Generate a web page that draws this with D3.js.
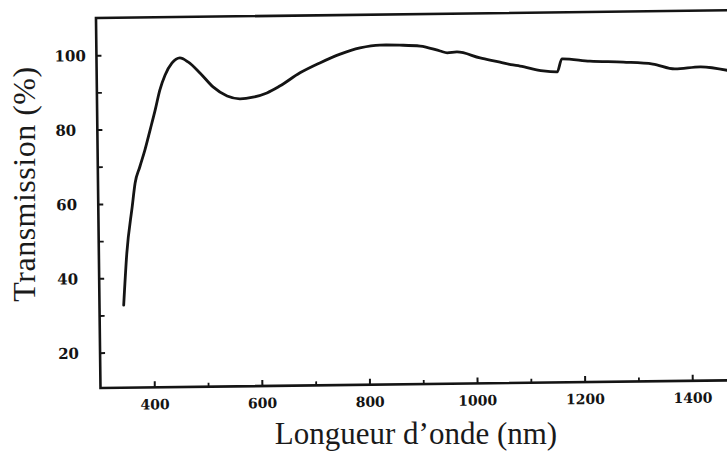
<!DOCTYPE html>
<html>
<head>
<meta charset="utf-8">
<script src="https://cdn.jsdelivr.net/npm/d3@7"></script>
<style>
  html, body { margin: 0; padding: 0; background: #fff; }
  svg { display: block; }
</style>
</head>
<body>
<svg id="chart" width="727" height="464"></svg>
<script>
// Wavelength (nm) and transmission (%)
const wavelength = [345, 352, 363, 369, 378, 388, 398, 408, 417, 427, 440, 455, 470, 492, 516, 542, 566, 590, 616, 640, 678, 715, 753, 790, 827, 864, 902, 939, 952, 970, 1013, 1050, 1070, 1087, 1130, 1156, 1165, 1217, 1279, 1334, 1375, 1422, 1480];
const transmission = [32.7, 46.7, 59.1, 65.5, 69.8, 74.4, 79.7, 85.1, 90.4, 94.4, 97.6, 99.0, 97.9, 94.9, 91.1, 88.6, 87.8, 88.2, 89.3, 91.1, 94.6, 97.2, 99.5, 101.1, 101.8, 101.7, 101.4, 100.0, 99.5, 99.7, 98.0, 96.8, 96.1, 95.7, 94.3, 94.0, 97.5, 96.8, 96.4, 95.8, 94.4, 94.9, 93.6];
const xTicksMajor = [400, 600, 800, 1000, 1200, 1400];
const xTicksMinor = [500, 700, 900, 1100, 1300];
const yTicksMajor = [20, 40, 60, 80, 100];
const yTicksMinor = [30, 50, 70, 90];
const xDomain = [300, 1480];
const yDomain = [10.5, 110];
const xTitle = "Longueur d\u2019onde (nm)";
const yTitle = "Transmission (%)";

const svg = d3.select("#chart");
const ox = 100.5, oy = 388;       // lower-left corner of the frame
const plotH = 370;
const plotW = (xDomain[1] - xDomain[0]) * 0.538;
const tilt = -0.7;                 // scan is slightly rotated

const x = d3.scaleLinear().domain(xDomain).range([0, plotW]);
const y = d3.scaleLinear().domain(yDomain).range([0, -plotH]);

const g = svg.append("g")
  .attr("transform", `translate(${ox},${oy}) rotate(${tilt})`);

const ink = "#141414";

// frame (right side falls outside the picture)
g.append("rect")
  .attr("x", 0).attr("y", -plotH)
  .attr("width", plotW).attr("height", plotH)
  .attr("fill", "none").attr("stroke", ink).attr("stroke-width", 2.6);

// x axis ticks (inward)
const xAxis = d3.axisBottom(x).tickValues(xTicksMajor).tickSize(-6).tickPadding(0).tickFormat(d3.format("d"));
const gx = g.append("g").call(xAxis);
gx.select(".domain").remove();
gx.selectAll(".tick line").attr("stroke", ink).attr("stroke-width", 2);
gx.selectAll(".tick text")
  .attr("y", 22).attr("dy", 0)
  .attr("fill", ink)
  .style("font-family", "'DejaVu Serif', serif")
  .style("font-weight", "bold")
  .style("font-size", "14px");

const gxm = g.append("g").call(d3.axisBottom(x).tickValues(xTicksMinor).tickSize(-4).tickFormat(""));
gxm.select(".domain").remove();
gxm.selectAll(".tick line").attr("stroke", ink).attr("stroke-width", 1.8);

// y axis ticks (inward)
const yAxis = d3.axisLeft(y).tickValues(yTicksMajor).tickSize(-5).tickPadding(0).tickFormat(d3.format("d"));
const gy = g.append("g").call(yAxis);
gy.select(".domain").remove();
gy.selectAll(".tick line").attr("stroke", ink).attr("stroke-width", 2);
gy.selectAll(".tick text")
  .attr("x", -42).attr("dy", "0.35em")
  .attr("text-anchor", "start")
  .attr("fill", ink)
  .style("font-family", "'DejaVu Serif', serif")
  .style("font-weight", "bold")
  .style("font-size", "15px");

const gym = g.append("g").call(d3.axisLeft(y).tickValues(yTicksMinor).tickSize(-5).tickFormat(""));
gym.select(".domain").remove();
gym.selectAll(".tick line").attr("stroke", ink).attr("stroke-width", 1.8);

// curve
const pts = wavelength.map((w, i) => [w, transmission[i]]);
const line = d3.line()
  .x(d => x(d[0]))
  .y(d => y(d[1]))
  .curve(d3.curveMonotoneX);

g.append("path")
  .datum(pts)
  .attr("d", line)
  .attr("fill", "none")
  .attr("stroke", ink)
  .attr("stroke-width", 2.8)
  .attr("stroke-linejoin", "round")
  .attr("stroke-linecap", "round");

// axis titles
svg.append("text")
  .attr("x", 416).attr("y", 444)
  .attr("text-anchor", "middle")
  .attr("fill", "#1a1a1a")
  .style("font-family", "'Liberation Serif', 'Times New Roman', serif")
  .style("font-size", "31px")
  .text(xTitle);

svg.append("text")
  .attr("transform", "translate(35,184) rotate(-90)")
  .attr("text-anchor", "middle")
  .attr("fill", "#1a1a1a")
  .style("font-family", "'Liberation Serif', 'Times New Roman', serif")
  .style("font-size", "32px")
  .style("letter-spacing", "0.5px")
  .text(yTitle);
</script>
</body>
</html>
